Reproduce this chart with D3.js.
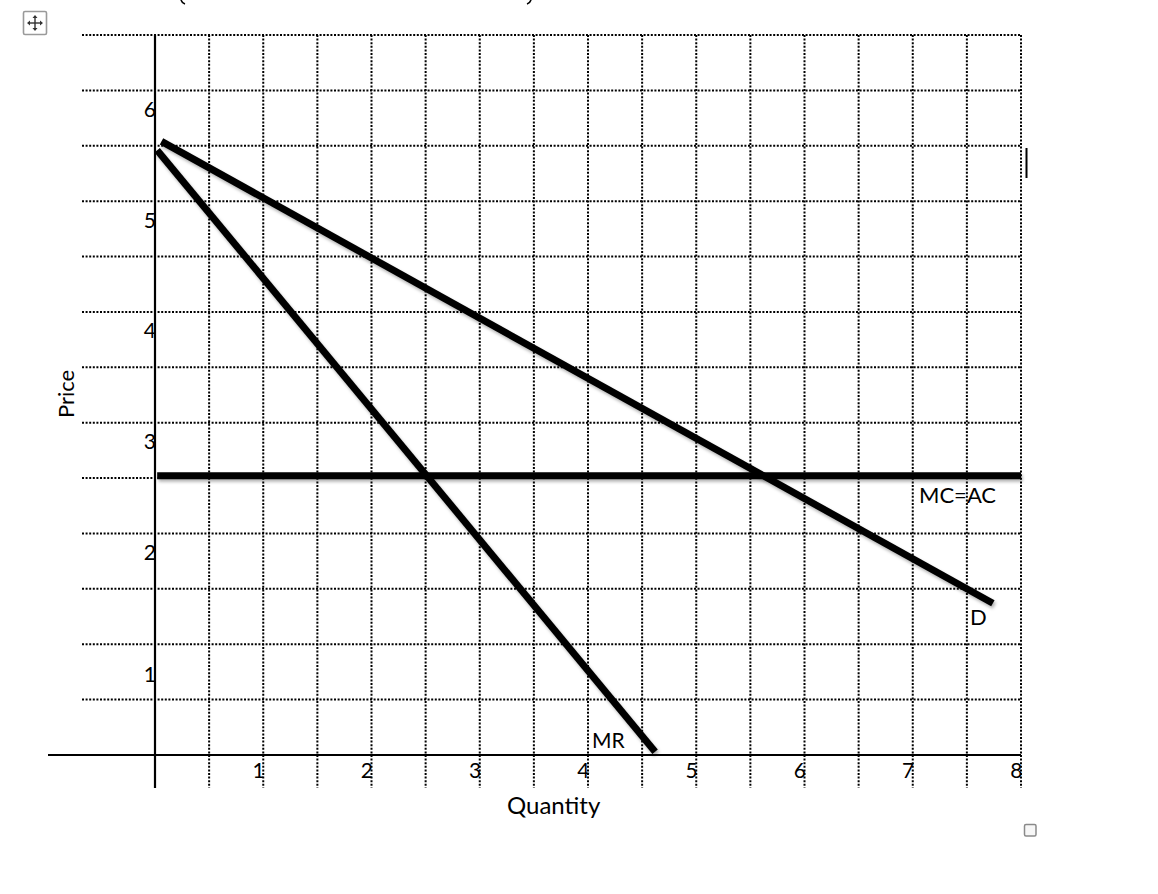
<!DOCTYPE html>
<html>
<head>
<meta charset="utf-8">
<script src="https://cdn.jsdelivr.net/npm/d3@7"></script>
<style>
  html, body { margin: 0; padding: 0; background: #fff; }
  svg { display: block; }
  text { font-family: Lato, "Open Sans", sans-serif; fill: #000; }
</style>
</head>
<body>
<svg id="chart" width="1158" height="894"></svg>
<script>
// ---- data ----
const xTickValues = [1, 2, 3, 4, 5, 6, 7, 8];
const yTickValues = [1, 2, 3, 4, 5, 6];
const xGridValues = [0.5, 1, 1.5, 2, 2.5, 3, 3.5, 4, 4.5, 5, 5.5, 6, 6.5, 7, 7.5, 8];
const yGridValues = [0.5, 1, 1.5, 2, 2.5, 3, 3.5, 4, 4.5, 5, 5.5, 6, 6.5];
const demandQ = [0.06, 7.74];
const demandP = [5.54, 1.37];
const mrQ = [0.02, 4.62];
const mrP = [5.46, 0.03];
const mcQ = [0.02, 8.0];
const mcP = [2.52, 2.52];
const xTitle = "Quantity";
const yTitle = "Price";

// ---- layout ----
const svg = d3.select("#chart");
const x = d3.scaleLinear().domain([0, 8]).range([155, 1021]);
const y = d3.scaleLinear().domain([0, 6.5]).range([755, 35]);
const gridLeft = 82, gridBottom = 788, axisLeftEnd = 48;

const defs = svg.append("defs");
const f = defs.append("filter").attr("id", "shadow")
  .attr("filterUnits", "userSpaceOnUse")
  .attr("x", 0).attr("y", 0).attr("width", 1158).attr("height", 894);
f.append("feDropShadow").attr("dx", 1.5).attr("dy", 2.5)
  .attr("stdDeviation", 1.6).attr("flood-color", "#000").attr("flood-opacity", 0.3);

// horizontal dotted grid
svg.append("g").selectAll("line").data(yGridValues).join("line")
  .attr("x1", gridLeft).attr("x2", x(8))
  .attr("y1", d => y(d)).attr("y2", d => y(d))
  .attr("stroke", "#000").attr("stroke-width", 2).attr("stroke-dasharray", "2,1.6");

// vertical dotted grid
svg.append("g").selectAll("line").data(xGridValues).join("line")
  .attr("x1", d => x(d)).attr("x2", d => x(d))
  .attr("y1", y(6.5)).attr("y2", gridBottom)
  .attr("stroke", "#000").attr("stroke-width", 2).attr("stroke-dasharray", "2,1.6");

// axes lines
svg.append("line").attr("x1", axisLeftEnd).attr("x2", x(8))
  .attr("y1", y(0)).attr("y2", y(0)).attr("stroke", "#000").attr("stroke-width", 2.2);
svg.append("line").attr("x1", x(0)).attr("x2", x(0))
  .attr("y1", y(6.5)).attr("y2", gridBottom).attr("stroke", "#000").attr("stroke-width", 2.2);

// x tick labels via axis
const xAxis = d3.axisBottom(x).tickValues(xTickValues).tickSize(0).tickFormat(d3.format("d"));
const gx = svg.append("g").attr("transform", `translate(0,${y(0)})`).call(xAxis);
gx.select(".domain").remove();
gx.selectAll("text")
  .attr("text-anchor", "end").attr("dx", 1).attr("y", 0).attr("dy", 23)
  .style("font-size", "21px").style("font-family", "Lato, sans-serif").attr("fill", "#000");

// y tick labels via axis
const yAxis = d3.axisLeft(y).tickValues(yTickValues).tickSize(0).tickFormat(d3.format("d"));
const gy = svg.append("g").attr("transform", `translate(${x(0)},0)`).call(yAxis);
gy.select(".domain").remove();
gy.selectAll("text")
  .attr("text-anchor", "end").attr("x", 1)
  .attr("dy", d => (d === 1 ? 37.5 : 26))
  .style("font-size", "21px").style("font-family", "Lato, sans-serif").attr("fill", "#000");

// thick lines
const line = d3.line().x(d => x(d[0])).y(d => y(d[1]));
const series = [
  d3.zip(mcQ, mcP),
  d3.zip(demandQ, demandP),
  d3.zip(mrQ, mrP)
];
svg.append("g").selectAll("path").data(series).join("path")
  .attr("d", line).attr("fill", "none").attr("stroke", "#000")
  .attr("stroke-width", 7).attr("stroke-linecap", "butt")
  .attr("filter", "url(#shadow)");

// labels
svg.append("text").attr("x", 919).attr("y", 503).style("font-size", "22px").text("MC=AC");
svg.append("text").attr("x", 970).attr("y", 625).style("font-size", "22px").text("D");
svg.append("text").attr("x", 592).attr("y", 748).style("font-size", "21px").text("MR");
svg.append("text").attr("x", 507).attr("y", 814).style("font-size", "24px").text(xTitle);
svg.append("text").attr("transform", "translate(74,394) rotate(-90)")
  .attr("text-anchor", "middle").style("font-size", "22px").text(yTitle);

// bottom tips of a cut-off title line at the top edge
svg.append("path").attr("d", "M181,0 Q182,3 185,4").attr("fill", "none")
  .attr("stroke", "#000").attr("stroke-width", 1.6);
svg.append("path").attr("d", "M531,0 Q530,3 527,4").attr("fill", "none")
  .attr("stroke", "#000").attr("stroke-width", 1.6);

// table move handle icon
const ic = svg.append("g");
ic.append("rect").attr("x", 23.5).attr("y", 11.5).attr("width", 23).attr("height", 23)
  .attr("rx", 1.5).attr("fill", "#fff").attr("stroke", "#9a9a9a").attr("stroke-width", 1.6);
ic.append("line").attr("x1", 28).attr("x2", 42).attr("y1", 23).attr("y2", 23).attr("stroke", "#333").attr("stroke-width", 1.4);
ic.append("line").attr("x1", 35).attr("x2", 35).attr("y1", 16).attr("y2", 30).attr("stroke", "#333").attr("stroke-width", 1.4);
ic.append("path").attr("fill", "#333").attr("d",
  "M27,23 L30,20.5 L30,25.5 Z M43,23 L40,20.5 L40,25.5 Z M35,15 L32.5,18 L37.5,18 Z M35,31 L32.5,28 L37.5,28 Z");

// text cursor
svg.append("rect").attr("x", 1025.5).attr("y", 148).attr("width", 2).attr("height", 30).attr("fill", "#000");

// small resize square
svg.append("rect").attr("x", 1024.5).attr("y", 824.5).attr("width", 11.5).attr("height", 11.5)
  .attr("rx", 1.5).attr("fill", "#f7f7f7").attr("stroke", "#8a8a8a").attr("stroke-width", 1.5);
</script>
</body>
</html>
